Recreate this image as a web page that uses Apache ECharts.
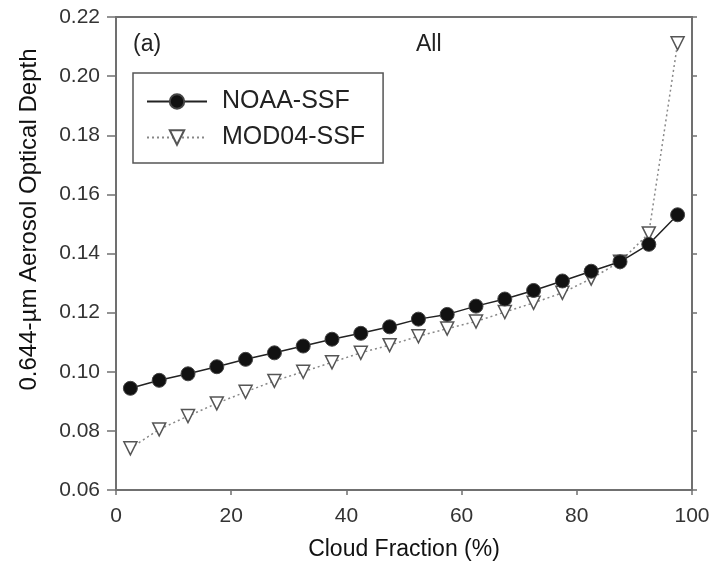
<!DOCTYPE html>
<html>
<head>
<meta charset="utf-8">
<script src="https://cdn.jsdelivr.net/npm/echarts@6/dist/echarts.min.js"></script>
<style>html,body{margin:0;padding:0;background:#fff;}#c{width:713px;height:567px;}</style>
</head>
<body>
<div id="c"></div>
<script>
const cloudFraction = [2.5, 7.5, 12.5, 17.5, 22.5, 27.5, 32.5, 37.5, 42.5, 47.5, 52.5, 57.5, 62.5, 67.5, 72.5, 77.5, 82.5, 87.5, 92.5, 97.5];
const noaaSSF = [0.0944, 0.0971, 0.0993, 0.1017, 0.1042, 0.1064, 0.1087, 0.1110, 0.1130, 0.1152, 0.1178, 0.1194, 0.1222, 0.1246, 0.1275, 0.1307, 0.1340, 0.1372, 0.1431, 0.1531];
const mod04SSF = [0.0741, 0.0805, 0.0850, 0.0893, 0.0932, 0.0969, 0.1000, 0.1032, 0.1064, 0.1090, 0.1120, 0.1146, 0.1170, 0.1202, 0.1233, 0.1267, 0.1315, 0.1372, 0.1468, 0.2111];
const seriesNames = ['NOAA-SSF', 'MOD04-SSF'];
const panelLabel = '(a)';
const panelTitle = 'All';
const xTitle = 'Cloud Fraction (%)';
const yTitle = '0.644-µm Aerosol Optical Depth';

const chart = echarts.init(document.getElementById('c'), null, {renderer: 'canvas'});
const font = 'Liberation Sans, Arial, sans-serif';
const axisCol = '#707070';
const toPairs = (xs, ys) => xs.map((x, i) => [x, ys[i]]);

chart.setOption({
  animation: false,
  backgroundColor: '#fff',
  grid: {left: 116, right: 21, top: 17, bottom: 77, containLabel: false},
  legend: {
    orient: 'vertical', left: 133, top: 73,
    padding: [16, 18, 13, 13],
    itemWidth: 60, itemHeight: 18, itemGap: 11, itemTextGap: 16,
    borderColor: '#555', borderWidth: 1.5, borderRadius: 0,
    textStyle: {fontFamily: font, fontSize: 25, color: '#222', padding: [0, 0, 0, 10]},
    data: seriesNames
  },
  graphic: [
    {type: 'text', left: 133, top: 33, style: {text: panelLabel, font: '23px ' + font, fill: '#222'}},
    {type: 'text', left: 416, top: 33, style: {text: panelTitle, font: '23px ' + font, fill: '#222'}}
  ],
  xAxis: [{
    type: 'value', min: 0, max: 100, interval: 20,
    name: xTitle, nameLocation: 'middle', nameGap: 48,
    nameTextStyle: {fontFamily: font, fontSize: 23, color: '#111'},
    axisLine: {lineStyle: {color: axisCol, width: 2}},
    axisTick: {show: true, length: 5, lineStyle: {color: axisCol, width: 1.5}},
    axisLabel: {fontFamily: font, fontSize: 21, color: '#333', margin: 16},
    splitLine: {show: false}
  }, {
    type: 'value', min: 0, max: 100, position: 'top',
    axisLine: {show: true, onZero: false, lineStyle: {color: axisCol, width: 2}},
    axisTick: {show: false}, axisLabel: {show: false}, splitLine: {show: false}
  }],
  yAxis: [{
    type: 'value', min: 0.06, max: 0.22, interval: 0.02,
    name: yTitle, nameLocation: 'middle', nameGap: 75, nameRotate: 90,
    nameTextStyle: {fontFamily: font, fontSize: 24, color: '#111', padding: [0, 0, 0, 68]},
    axisLine: {show: true, lineStyle: {color: axisCol, width: 2}},
    axisTick: {show: true, length: 9, lineStyle: {color: axisCol, width: 1.5}},
    axisLabel: {fontFamily: font, fontSize: 21, color: '#333', margin: 16, formatter: v => v.toFixed(2)},
    splitLine: {show: false}
  }, {
    type: 'value', min: 0.06, max: 0.22, interval: 0.02, position: 'right',
    axisLine: {show: true, onZero: false, lineStyle: {color: axisCol, width: 2}},
    axisTick: {show: true, length: 5, lineStyle: {color: axisCol, width: 1.5}},
    axisLabel: {show: false}, splitLine: {show: false}
  }],
  series: [{
    name: seriesNames[0], type: 'line', xAxisIndex: 0, yAxisIndex: 0,
    data: toPairs(cloudFraction, noaaSSF),
    symbol: 'circle', symbolSize: 14,
    lineStyle: {color: '#222', width: 1.5, type: 'solid'},
    itemStyle: {color: '#111', borderColor: '#444', borderWidth: 1},
    z: 3
  }, {
    name: seriesNames[1], type: 'line', xAxisIndex: 0, yAxisIndex: 0,
    data: toPairs(cloudFraction, mod04SSF),
    symbol: 'triangle', symbolRotate: 180, symbolSize: 13,
    lineStyle: {color: '#888', width: 1.5, type: [2, 3]},
    itemStyle: {color: '#fff', borderColor: '#555', borderWidth: 1.5},
    z: 2
  }]
});
</script>
</body>
</html>
